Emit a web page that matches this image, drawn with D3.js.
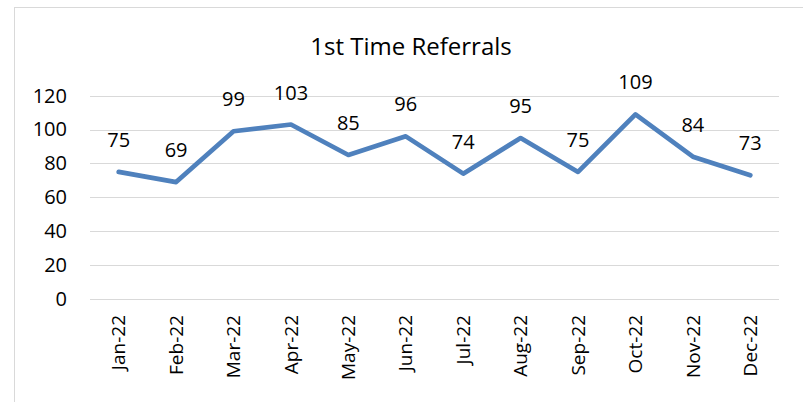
<!DOCTYPE html>
<html><head><meta charset="utf-8">
<script src="https://cdn.jsdelivr.net/npm/d3@7"></script>
<style>body{margin:0;background:#fff;}svg{display:block;}</style>
</head><body>
<script>
const categories = ["Jan-22","Feb-22","Mar-22","Apr-22","May-22","Jun-22","Jul-22","Aug-22","Sep-22","Oct-22","Nov-22","Dec-22"];
const values = [75,69,99,103,85,96,74,95,75,109,84,73];
const yTicks = [0,20,40,60,80,100,120];
const title = "1st Time Referrals";

const W = 803, H = 402;
const svg = d3.select("body").append("svg").attr("width", W).attr("height", H);
const font = "'Open Sans', sans-serif";

svg.append("rect").attr("x", 14.5).attr("y", 7.5).attr("width", 900).attr("height", 500)
  .attr("fill", "#fff").attr("stroke", "#d9d9d9").attr("stroke-width", 1);

const x = d3.scaleBand().domain(categories).range([90, 779]);
const y = d3.scaleLinear().domain([0, 120]).range([299, 95.7]);

svg.append("text").attr("x", 411).attr("y", 55).attr("text-anchor", "middle")
  .attr("font-family", font).attr("font-size", 24).attr("fill", "#000").text(title);

const grid = svg.append("g");
yTicks.forEach(t => {
  grid.append("line").attr("x1", 90).attr("x2", 779)
    .attr("y1", Math.round(y(t)) + 0.5).attr("y2", Math.round(y(t)) + 0.5)
    .attr("stroke", "#d9d9d9").attr("stroke-width", 1);
});

const yAxis = svg.append("g").attr("transform", "translate(90,0)")
  .call(d3.axisLeft(y).tickValues(yTicks).tickSize(0).tickPadding(23));
yAxis.select(".domain").remove();
yAxis.selectAll("text").attr("font-family", font).attr("font-size", 20).attr("fill", "#000");

const xAxis = svg.append("g").attr("transform", "translate(0,299)")
  .call(d3.axisBottom(x).tickSize(0));
xAxis.select(".domain").remove();
xAxis.selectAll("text")
  .attr("font-family", font).attr("font-size", 19).attr("fill", "#000")
  .attr("transform", "rotate(-90)")
  .attr("x", -16).attr("y", 0).attr("dy", "0.35em")
  .attr("text-anchor", "end");

const cx = d => x(d) + x.bandwidth() / 2;
const line = d3.line().x((d, i) => cx(categories[i])).y(d => y(d));
svg.append("path").datum(values).attr("d", line)
  .attr("fill", "none").attr("stroke", "#4f81bd").attr("stroke-width", 4.7)
  .attr("stroke-linejoin", "round").attr("stroke-linecap", "round");

svg.append("g").selectAll("text").data(values).join("text")
  .attr("x", (d, i) => cx(categories[i]))
  .attr("y", d => y(d) - 25)
  .attr("text-anchor", "middle")
  .attr("font-family", font).attr("font-size", 20).attr("fill", "#000")
  .text(d => d);
</script>
</body></html>
